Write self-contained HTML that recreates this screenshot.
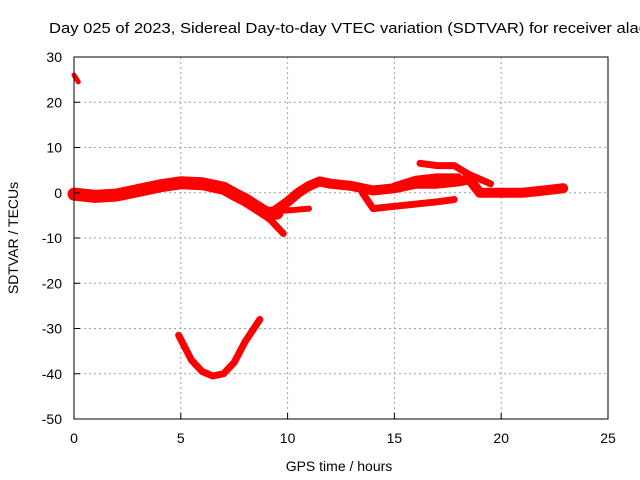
<!DOCTYPE html>
<html><head><meta charset="utf-8"><style>
body{margin:0;background:#fff}
svg{display:block;font-family:"Liberation Sans",sans-serif}
</style></head><body>
<svg id="chart" width="640" height="480">
<rect width="640" height="480" fill="#fff"/>
<text x="49" y="33" font-size="14.5" textLength="598" lengthAdjust="spacingAndGlyphs" fill="#000">Day 025 of 2023, Sidereal Day-to-day VTEC variation (SDTVAR) for receiver alac</text>
<g id="grid"></g>
<g id="series"></g>
<rect x="74" y="57" width="534" height="362" fill="none" stroke="#000" stroke-width="1"/>
<g id="ticks"></g>
<text x="339" y="471" font-size="14" text-anchor="middle">GPS time / hours</text>
<text transform="translate(18,238) rotate(-90)" font-size="14" text-anchor="middle">SDTVAR / TECUs</text>
</svg>
<script>
const xTicks=[0,5,10,15,20,25];
const yTicks=[30,20,10,0,-10,-20,-30,-40,-50];
const topDotH=[0,0.2];
const topDotV=[26,24.5];
const mainH=[0,1,2,3,4,5,6,7,7.5,8,8.5,9,9.5];
const mainV=[-0.3,-0.8,-0.5,0.5,1.5,2.2,2,1,-0.3,-1.5,-3,-4.5,-4.5];
const dropH=[8.5,9.2,9.8];
const dropV=[-3.5,-6,-9];
const riseH=[9.4,10,10.5,11,11.5,12,13,13.5,14,15,15.5,16,17,18,18.5,19,20,21,22,22.9];
const riseV=[-4,-2,0,1.5,2.5,2,1.5,1,0.5,1,1.5,2,2,2.5,3,0,0,0,0.5,1];
const sideH=[9.6,10.3,11];
const sideV=[-4,-3.8,-3.5];
const lowH=[13.5,14,15,16,17,17.8];
const lowV=[0,-3.5,-3,-2.5,-2,-1.5];
const midH=[15,16,17,18];
const midV=[1.5,3,3.5,3.5];
const upH=[16.2,17,17.8,18.5,19.5];
const upV=[6.5,6,6,4,2];
const bowlH=[4.9,5.5,6,6.5,7,7.5,8,8.7];
const bowlV=[-31.5,-37,-39.5,-40.5,-40,-37.5,-33,-28];

const X=h=>74+h*534/25;
const Y=v=>57+(30-v)*362/80;
const NS='http://www.w3.org/2000/svg';
const grid=document.getElementById('grid'),ticks=document.getElementById('ticks'),ser=document.getElementById('series');
function mk(tag,attrs,parent){const e=document.createElementNS(NS,tag);for(const k in attrs)e.setAttribute(k,attrs[k]);parent.appendChild(e);return e;}
xTicks.forEach(t=>{
  const x=X(t);
  if(t>0&&t<25){const g=mk('line',{x1:x,x2:x,y1:57,y2:419,stroke:'#a0a0a0','stroke-dasharray':'2,3'},grid);
  
  }
  const l=mk('text',{x:x,y:443,'font-size':14,'text-anchor':'middle'},ticks);l.textContent=t;
  
  
  const tk=mk('line',{x1:x,x2:x,y1:419,y2:413,stroke:'#000'},ticks);
  
  
});
yTicks.forEach(t=>{
  const y=Y(t);
  if(t<30&&t>-50){const g=mk('line',{x1:74,x2:608,y1:y,y2:y,stroke:'#a0a0a0','stroke-dasharray':'2,3'},grid);
  
  }
  const l=mk('text',{x:62,y:y+5,'font-size':14,'text-anchor':'end'},ticks);l.textContent=t;
  
  
  const tk=mk('line',{x1:74,x2:80,y1:y,y2:y,stroke:'#000'},ticks);
  
  
});
function line(hs,vs,w,name){
  const pts=hs.map((h,i)=>X(h)+','+Y(vs[i])).join(' ');
  const p=mk('polyline',{points:pts,fill:'none',stroke:'#ff0000','stroke-width':w,'stroke-linejoin':'round','stroke-linecap':'round'},ser);
  
  
}
line(topDotH,topDotV,5,'series-top-dot');
line(mainH,mainV,13,'series-main-band');
line(dropH,dropV,7,'series-drop-branch');
line(riseH,riseV,10,'series-rise-band');
line(sideH,sideV,6,'series-side-branch');
line(lowH,lowV,7,'series-lower-arc');
line(midH,midV,7,'series-middle-strand');
line(upH,upV,7,'series-upper-arc');
line(bowlH,bowlV,7,'series-bowl-curve');
</script>
</body></html>
